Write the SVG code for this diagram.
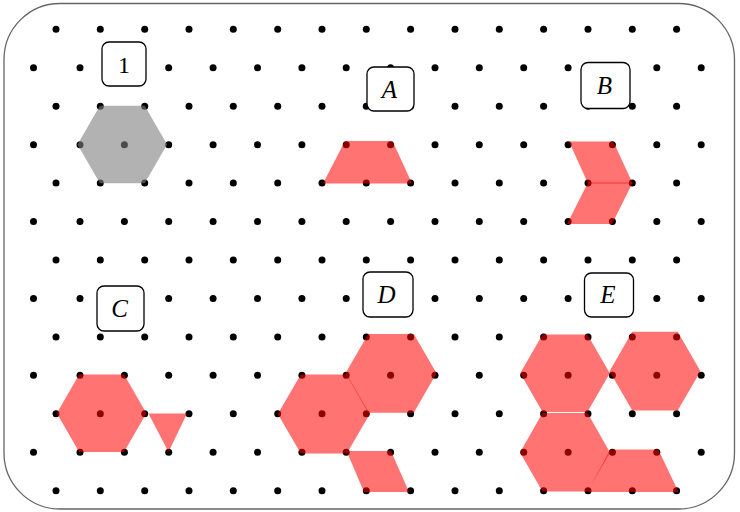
<svg xmlns="http://www.w3.org/2000/svg" width="740" height="512" viewBox="0 0 740 512">
<style>
.dots circle{fill:#000}
.gray{fill:#7f7f7f;fill-opacity:0.6;stroke:none}
.red{fill:#ff0000;fill-opacity:0.55;stroke:none}
.box{fill:#fff;stroke:#000;stroke-width:1.3}
.lbl{font-family:"Liberation Serif","DejaVu Serif",serif;font-style:italic;font-size:25px;text-anchor:middle;fill:#000}
.num{font-family:"Liberation Serif","DejaVu Serif",serif;font-size:24px;text-anchor:middle;fill:#000}
</style>
<rect x="4" y="3.5" width="730.5" height="505.5" rx="56" ry="56" fill="#fff" stroke="#666" stroke-width="1.3"/>
<g class="dots">
<g id="r0"><circle cx="56" cy="29.3" r="3.5"/><circle cx="100.3" cy="29.3" r="3.5"/><circle cx="144.7" cy="29.3" r="3.5"/><circle cx="189" cy="29.3" r="3.5"/><circle cx="233.3" cy="29.3" r="3.5"/><circle cx="277.7" cy="29.3" r="3.5"/><circle cx="322" cy="29.3" r="3.5"/><circle cx="366.3" cy="29.3" r="3.5"/><circle cx="410.6" cy="29.3" r="3.5"/><circle cx="455" cy="29.3" r="3.5"/><circle cx="499.3" cy="29.3" r="3.5"/><circle cx="543.6" cy="29.3" r="3.5"/><circle cx="588" cy="29.3" r="3.5"/><circle cx="632.3" cy="29.3" r="3.5"/><circle cx="676.6" cy="29.3" r="3.5"/></g>
<g id="r1"><circle cx="33.5" cy="67.75" r="3.5"/><circle cx="80" cy="67.75" r="3.5"/><circle cx="124.4" cy="67.75" r="3.5"/><circle cx="168.7" cy="67.75" r="3.5"/><circle cx="213.1" cy="67.75" r="3.5"/><circle cx="257.5" cy="67.75" r="3.5"/><circle cx="301.9" cy="67.75" r="3.5"/><circle cx="346.2" cy="67.75" r="3.5"/><circle cx="390.6" cy="67.75" r="3.5"/><circle cx="435" cy="67.75" r="3.5"/><circle cx="479.3" cy="67.75" r="3.5"/><circle cx="523.7" cy="67.75" r="3.5"/><circle cx="568.1" cy="67.75" r="3.5"/><circle cx="612.4" cy="67.75" r="3.5"/><circle cx="656.8" cy="67.75" r="3.5"/><circle cx="701.2" cy="67.75" r="3.5"/></g>
<g id="r2"><circle cx="56" cy="106.2" r="3.5"/><circle cx="100.3" cy="106.2" r="3.5"/><circle cx="144.7" cy="106.2" r="3.5"/><circle cx="189" cy="106.2" r="3.5"/><circle cx="233.3" cy="106.2" r="3.5"/><circle cx="277.7" cy="106.2" r="3.5"/><circle cx="322" cy="106.2" r="3.5"/><circle cx="366.3" cy="106.2" r="3.5"/><circle cx="410.6" cy="106.2" r="3.5"/><circle cx="455" cy="106.2" r="3.5"/><circle cx="499.3" cy="106.2" r="3.5"/><circle cx="543.6" cy="106.2" r="3.5"/><circle cx="588" cy="106.2" r="3.5"/><circle cx="632.3" cy="106.2" r="3.5"/><circle cx="676.6" cy="106.2" r="3.5"/></g>
<g id="r3"><circle cx="33.5" cy="144.65" r="3.5"/><circle cx="80" cy="144.65" r="3.5"/><circle cx="124.4" cy="144.65" r="3.5"/><circle cx="168.7" cy="144.65" r="3.5"/><circle cx="213.1" cy="144.65" r="3.5"/><circle cx="257.5" cy="144.65" r="3.5"/><circle cx="301.9" cy="144.65" r="3.5"/><circle cx="346.2" cy="144.65" r="3.5"/><circle cx="390.6" cy="144.65" r="3.5"/><circle cx="435" cy="144.65" r="3.5"/><circle cx="479.3" cy="144.65" r="3.5"/><circle cx="523.7" cy="144.65" r="3.5"/><circle cx="568.1" cy="144.65" r="3.5"/><circle cx="612.4" cy="144.65" r="3.5"/><circle cx="656.8" cy="144.65" r="3.5"/><circle cx="701.2" cy="144.65" r="3.5"/></g>
<g id="r4"><circle cx="56" cy="183.1" r="3.5"/><circle cx="100.3" cy="183.1" r="3.5"/><circle cx="144.7" cy="183.1" r="3.5"/><circle cx="189" cy="183.1" r="3.5"/><circle cx="233.3" cy="183.1" r="3.5"/><circle cx="277.7" cy="183.1" r="3.5"/><circle cx="322" cy="183.1" r="3.5"/><circle cx="366.3" cy="183.1" r="3.5"/><circle cx="410.6" cy="183.1" r="3.5"/><circle cx="455" cy="183.1" r="3.5"/><circle cx="499.3" cy="183.1" r="3.5"/><circle cx="543.6" cy="183.1" r="3.5"/><circle cx="588" cy="183.1" r="3.5"/><circle cx="632.3" cy="183.1" r="3.5"/><circle cx="676.6" cy="183.1" r="3.5"/></g>
<g id="r5"><circle cx="33.5" cy="221.55" r="3.5"/><circle cx="80" cy="221.55" r="3.5"/><circle cx="124.4" cy="221.55" r="3.5"/><circle cx="168.7" cy="221.55" r="3.5"/><circle cx="213.1" cy="221.55" r="3.5"/><circle cx="257.5" cy="221.55" r="3.5"/><circle cx="301.9" cy="221.55" r="3.5"/><circle cx="346.2" cy="221.55" r="3.5"/><circle cx="390.6" cy="221.55" r="3.5"/><circle cx="435" cy="221.55" r="3.5"/><circle cx="479.3" cy="221.55" r="3.5"/><circle cx="523.7" cy="221.55" r="3.5"/><circle cx="568.1" cy="221.55" r="3.5"/><circle cx="612.4" cy="221.55" r="3.5"/><circle cx="656.8" cy="221.55" r="3.5"/><circle cx="701.2" cy="221.55" r="3.5"/></g>
<g id="r6"><circle cx="56" cy="260" r="3.5"/><circle cx="100.3" cy="260" r="3.5"/><circle cx="144.7" cy="260" r="3.5"/><circle cx="189" cy="260" r="3.5"/><circle cx="233.3" cy="260" r="3.5"/><circle cx="277.7" cy="260" r="3.5"/><circle cx="322" cy="260" r="3.5"/><circle cx="366.3" cy="260" r="3.5"/><circle cx="410.6" cy="260" r="3.5"/><circle cx="455" cy="260" r="3.5"/><circle cx="499.3" cy="260" r="3.5"/><circle cx="543.6" cy="260" r="3.5"/><circle cx="588" cy="260" r="3.5"/><circle cx="632.3" cy="260" r="3.5"/><circle cx="676.6" cy="260" r="3.5"/></g>
<g id="r7"><circle cx="33.5" cy="298.45" r="3.5"/><circle cx="80" cy="298.45" r="3.5"/><circle cx="124.4" cy="298.45" r="3.5"/><circle cx="168.7" cy="298.45" r="3.5"/><circle cx="213.1" cy="298.45" r="3.5"/><circle cx="257.5" cy="298.45" r="3.5"/><circle cx="301.9" cy="298.45" r="3.5"/><circle cx="346.2" cy="298.45" r="3.5"/><circle cx="390.6" cy="298.45" r="3.5"/><circle cx="435" cy="298.45" r="3.5"/><circle cx="479.3" cy="298.45" r="3.5"/><circle cx="523.7" cy="298.45" r="3.5"/><circle cx="568.1" cy="298.45" r="3.5"/><circle cx="612.4" cy="298.45" r="3.5"/><circle cx="656.8" cy="298.45" r="3.5"/><circle cx="701.2" cy="298.45" r="3.5"/></g>
<g id="r8"><circle cx="56" cy="336.9" r="3.5"/><circle cx="100.3" cy="336.9" r="3.5"/><circle cx="144.7" cy="336.9" r="3.5"/><circle cx="189" cy="336.9" r="3.5"/><circle cx="233.3" cy="336.9" r="3.5"/><circle cx="277.7" cy="336.9" r="3.5"/><circle cx="322" cy="336.9" r="3.5"/><circle cx="366.3" cy="336.9" r="3.5"/><circle cx="410.6" cy="336.9" r="3.5"/><circle cx="455" cy="336.9" r="3.5"/><circle cx="499.3" cy="336.9" r="3.5"/><circle cx="543.6" cy="336.9" r="3.5"/><circle cx="588" cy="336.9" r="3.5"/><circle cx="632.3" cy="336.9" r="3.5"/><circle cx="676.6" cy="336.9" r="3.5"/></g>
<g id="r9"><circle cx="33.5" cy="375.35" r="3.5"/><circle cx="80" cy="375.35" r="3.5"/><circle cx="124.4" cy="375.35" r="3.5"/><circle cx="168.7" cy="375.35" r="3.5"/><circle cx="213.1" cy="375.35" r="3.5"/><circle cx="257.5" cy="375.35" r="3.5"/><circle cx="301.9" cy="375.35" r="3.5"/><circle cx="346.2" cy="375.35" r="3.5"/><circle cx="390.6" cy="375.35" r="3.5"/><circle cx="435" cy="375.35" r="3.5"/><circle cx="479.3" cy="375.35" r="3.5"/><circle cx="523.7" cy="375.35" r="3.5"/><circle cx="568.1" cy="375.35" r="3.5"/><circle cx="612.4" cy="375.35" r="3.5"/><circle cx="656.8" cy="375.35" r="3.5"/><circle cx="701.2" cy="375.35" r="3.5"/></g>
<g id="r10"><circle cx="56" cy="413.8" r="3.5"/><circle cx="100.3" cy="413.8" r="3.5"/><circle cx="144.7" cy="413.8" r="3.5"/><circle cx="189" cy="413.8" r="3.5"/><circle cx="233.3" cy="413.8" r="3.5"/><circle cx="277.7" cy="413.8" r="3.5"/><circle cx="322" cy="413.8" r="3.5"/><circle cx="366.3" cy="413.8" r="3.5"/><circle cx="410.6" cy="413.8" r="3.5"/><circle cx="455" cy="413.8" r="3.5"/><circle cx="499.3" cy="413.8" r="3.5"/><circle cx="543.6" cy="413.8" r="3.5"/><circle cx="588" cy="413.8" r="3.5"/><circle cx="632.3" cy="413.8" r="3.5"/><circle cx="676.6" cy="413.8" r="3.5"/></g>
<g id="r11"><circle cx="33.5" cy="452.25" r="3.5"/><circle cx="80" cy="452.25" r="3.5"/><circle cx="124.4" cy="452.25" r="3.5"/><circle cx="168.7" cy="452.25" r="3.5"/><circle cx="213.1" cy="452.25" r="3.5"/><circle cx="257.5" cy="452.25" r="3.5"/><circle cx="301.9" cy="452.25" r="3.5"/><circle cx="346.2" cy="452.25" r="3.5"/><circle cx="390.6" cy="452.25" r="3.5"/><circle cx="435" cy="452.25" r="3.5"/><circle cx="479.3" cy="452.25" r="3.5"/><circle cx="523.7" cy="452.25" r="3.5"/><circle cx="568.1" cy="452.25" r="3.5"/><circle cx="612.4" cy="452.25" r="3.5"/><circle cx="656.8" cy="452.25" r="3.5"/><circle cx="701.2" cy="452.25" r="3.5"/></g>
<g id="r12"><circle cx="56" cy="490.7" r="3.5"/><circle cx="100.3" cy="490.7" r="3.5"/><circle cx="144.7" cy="490.7" r="3.5"/><circle cx="189" cy="490.7" r="3.5"/><circle cx="233.3" cy="490.7" r="3.5"/><circle cx="277.7" cy="490.7" r="3.5"/><circle cx="322" cy="490.7" r="3.5"/><circle cx="366.3" cy="490.7" r="3.5"/><circle cx="410.6" cy="490.7" r="3.5"/><circle cx="455" cy="490.7" r="3.5"/><circle cx="499.3" cy="490.7" r="3.5"/><circle cx="543.6" cy="490.7" r="3.5"/><circle cx="588" cy="490.7" r="3.5"/><circle cx="632.3" cy="490.7" r="3.5"/><circle cx="676.6" cy="490.7" r="3.5"/></g>
</g>
<g id="shape1"><polygon class="gray" points="77.5,144.5 99.9,105.7 144.7,105.7 167.1,144.5 144.7,183.3 99.9,183.3"/></g>
<g id="shapeA"><polygon class="red" points="345,141 392.5,141 412,183.5 323,183.5"/></g>
<g id="shapeB"><polygon class="red" points="569,141.5 613.3,141.5 632.7,183.5 588,183.5"/><polygon class="red" points="588,182.5 632.7,182.5 612,224 567,224"/></g>
<g id="shapeC"><polygon class="red" points="56.8,413.2 79.2,374.4 124,374.4 146.4,413.2 124,452 79.2,452"/><polygon class="red" points="148.5,413.5 187,413.5 168.5,452"/></g>
<g id="shapeD"><polygon class="red" points="345.5,373.3 368.25,333.9 413.75,333.9 436.5,373.3 413.75,412.7 368.25,412.7"/><polygon class="red" points="277.8,413.9 300.8,374.4 346.8,374.4 369.8,413.9 346.8,453.4 300.8,453.4"/><polygon class="red" points="346.5,451 391,451 409,492 364,492"/></g>
<g id="shapeE"><polygon class="red" points="520.2,373.3 542.6,334.5 587.4,334.5 609.8,373.3 587.4,412.1 542.6,412.1"/><polygon class="red" points="609.5,371.2 632.3,331.8 677.7,331.8 700.5,371.2 677.7,410.6 632.3,410.6"/><polygon class="red" points="520,452.5 542.5,413 587.5,413 610,452.5 587.5,491.5 542.5,491.5"/><polygon class="red" points="610.3,449.5 658.3,449.5 678.5,492 587.3,492"/></g>
<g id="label1"><rect class="box" x="102" y="42" width="44" height="44" rx="7"/><text class="num" x="124" y="72.7">1</text></g>
<g id="labelA"><rect class="box" x="367" y="67" width="47" height="44" rx="7"/><text class="lbl" x="389.5" y="98">A</text></g>
<g id="labelB"><rect class="box" x="581" y="62.5" width="49" height="46" rx="7"/><text class="lbl" x="604.5" y="94.3">B</text></g>
<g id="labelC"><rect class="box" x="97" y="286" width="47" height="45" rx="7"/><text class="lbl" x="119.5" y="317">C</text></g>
<g id="labelD"><rect class="box" x="363" y="272" width="50" height="45" rx="7"/><text class="lbl" x="386.5" y="303.3">D</text></g>
<g id="labelE"><rect class="box" x="584.5" y="273" width="49" height="44" rx="7"/><text class="lbl" x="608" y="303.3">E</text></g>
</svg>
